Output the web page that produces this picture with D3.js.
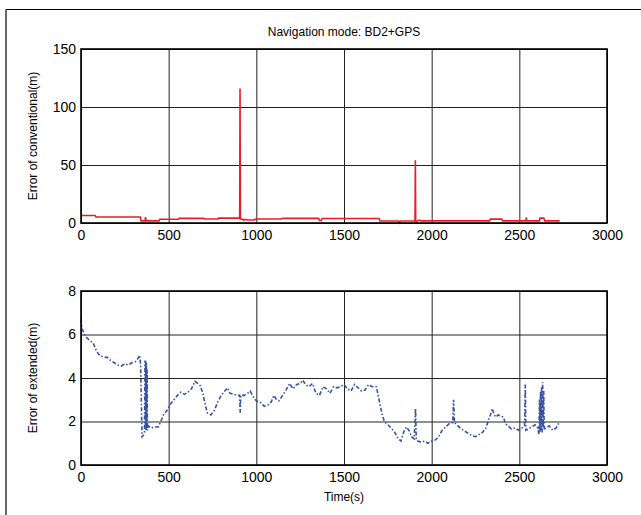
<!DOCTYPE html>
<html>
<head>
<meta charset="utf-8">
<script src="https://cdn.jsdelivr.net/npm/d3@7"></script>
<style>
  body { margin: 0; background: #fff; }
  text { font-family: Arial, "Liberation Sans", sans-serif; fill: #000; }
</style>
</head>
<body>
<svg class="chart"></svg>
<script>
// conventional error (top panel), time in s
var convTime = [0, 80, 85, 338, 343, 365, 368, 372, 376, 445, 450, 555, 560, 700, 705, 780, 785, 905, 907, 909, 915, 930, 935, 950, 990, 995, 1145, 1150, 1355, 1360, 1370, 1375, 1700, 1705, 1810, 1815, 1820, 1905, 1907, 1909, 1912, 1930, 1940, 2330, 2335, 2400, 2405, 2538, 2540, 2542, 2615, 2618, 2640, 2645, 2730];
var convErr  = [6.5, 6.5, 5.2, 5.2, 1.8, 1.8, 5, 1.8, 1.8, 1.8, 3.2, 3.2, 4, 4, 3.5, 3.5, 4.2, 4.2, 116, 3.5, 3.5, 2.5, 3.2, 2.6, 2.6, 3.4, 3.4, 4, 4, 2.2, 2.2, 3.9, 3.9, 1.7, 1.7, 0.2, 1.7, 1.7, 54, 1.2, 1.2, 2.5, 1.8, 1.8, 3.3, 3.3, 1.8, 1.8, 4.8, 1.8, 1.8, 4.2, 4.2, 1.8, 1.8];

// extended error (bottom panel)
var extTime = [0, 5, 15, 25, 40, 55, 70, 85, 100, 115, 130, 150, 170, 190, 210, 230, 250, 270, 290, 310, 325, 335, 340, 348, 355, 362, 365, 367, 369, 371, 373, 375, 377, 379, 385, 400, 420, 440, 455, 470, 490, 510, 530, 550, 570, 590, 610, 630, 650, 665, 680, 695, 705, 720, 740, 760, 780, 800, 820, 835, 850, 870, 890, 905, 908, 911, 930, 950, 965, 985, 1000, 1020, 1045, 1065, 1085, 1100, 1115, 1130, 1150, 1170, 1190, 1210, 1230, 1250, 1265, 1280, 1300, 1320, 1340, 1360, 1380, 1400, 1420, 1440, 1460, 1480, 1500, 1520, 1540, 1560, 1580, 1600, 1620, 1640, 1660, 1685, 1700, 1715, 1730, 1750, 1770, 1790, 1810, 1825, 1840, 1855, 1870, 1885, 1900, 1908, 1912, 1920, 1940, 1960, 1980, 2000, 2020, 2040, 2060, 2080, 2100, 2120, 2125, 2130, 2150, 2170, 2190, 2210, 2230, 2250, 2270, 2290, 2310, 2325, 2335, 2345, 2355, 2365, 2380, 2395, 2410, 2420, 2435, 2455, 2475, 2495, 2515, 2530, 2534, 2537, 2550, 2570, 2590, 2605, 2612, 2615, 2618, 2621, 2624, 2627, 2630, 2633, 2636, 2639, 2642, 2650, 2670, 2690, 2710, 2730];
var extErr  = [6.7, 6.3, 6.1, 5.9, 5.8, 5.7, 5.6, 5.3, 5.1, 5.0, 4.95, 4.95, 4.8, 4.7, 4.6, 4.55, 4.65, 4.6, 4.7, 4.75, 4.9, 5.05, 4.6, 1.3, 1.35, 1.5, 4.8, 1.6, 4.8, 1.6, 4.7, 1.7, 4.4, 1.6, 1.8, 1.7, 1.75, 1.75, 2.0, 2.3, 2.5, 2.8, 3.0, 3.2, 3.35, 3.25, 3.35, 3.5, 3.85, 3.75, 3.65, 3.3, 2.9, 2.4, 2.3, 2.5, 2.9, 3.2, 3.4, 3.55, 3.3, 3.25, 3.2, 3.2, 2.4, 3.2, 3.2, 3.3, 3.4, 3.1, 2.95, 2.9, 2.7, 2.75, 2.9, 3.2, 3.0, 2.95, 3.2, 3.45, 3.75, 3.5, 3.7, 3.75, 3.9, 3.7, 3.6, 3.75, 3.3, 3.2, 3.6, 3.5, 3.3, 3.6, 3.55, 3.6, 3.7, 3.5, 3.4, 3.7, 3.55, 3.4, 3.45, 3.7, 3.6, 3.6, 3.0, 2.4, 2.0, 1.85, 1.7, 1.5, 1.2, 1.1, 1.5, 1.75, 1.6, 1.3, 1.2, 2.6, 1.2, 1.1, 1.05, 1.1, 1.0, 1.1, 1.15, 1.3, 1.6, 1.75, 1.9, 1.95, 3.0, 1.95, 1.8, 1.65, 1.55, 1.45, 1.35, 1.3, 1.4, 1.5, 1.7, 2.1, 2.3, 2.6, 2.35, 2.2, 2.3, 2.25, 2.2, 1.9, 1.8, 1.65, 1.7, 1.6, 1.7, 1.8, 3.7, 1.6, 1.65, 1.75, 1.85, 1.7, 1.4, 3.0, 1.5, 3.4, 1.6, 3.6, 1.5, 3.8, 1.7, 3.4, 1.6, 1.7, 1.8, 1.6, 1.7, 2.0];

var xTicks = [0, 500, 1000, 1500, 2000, 2500, 3000];
var convTicks = [0, 50, 100, 150];
var extTicks = [0, 2, 4, 6, 8];

var W = 641, H = 515;
var left = 81, right = 607;

var svg = d3.select(".chart").attr("width", W).attr("height", H);

// outer figure frame (only top & left edge visible)
svg.append("line").attr("x1", 6).attr("x2", W).attr("y1", 9.5).attr("y2", 9.5)
    .attr("stroke", "#000").attr("stroke-width", 1.2);
svg.append("line").attr("x1", 6).attr("x2", 6).attr("y1", 9.5).attr("y2", H)
    .attr("stroke", "#000").attr("stroke-width", 1.2);

svg.append("text").attr("x", 344).attr("y", 36).attr("text-anchor", "middle")
    .style("font-size", "12px").text("Navigation mode: BD2+GPS");

function panel(top, bottom, yMax, yTicks, times, vals, color, dash, label) {
  var x = d3.scaleLinear().domain([0, 3000]).range([left, right]);
  var y = d3.scaleLinear().domain([0, yMax]).range([bottom, top]);
  var g = svg.append("g");

  // grid via axes
  g.append("g")
      .attr("transform", "translate(0," + bottom + ")")
      .call(d3.axisBottom(x).tickValues(xTicks).tickFormat(d3.format("d"))
              .tickSize(-(bottom - top)).tickPadding(7))
      .call(a => a.select(".domain").remove())
      .call(a => a.selectAll("line").attr("stroke", "#222").attr("stroke-width", 1))
      .call(a => a.selectAll("text").style("font-size", "14px").attr("fill", "#000"));

  g.append("g")
      .attr("transform", "translate(" + left + ",0)")
      .call(d3.axisLeft(y).tickValues(yTicks).tickFormat(d3.format("d"))
              .tickSize(-(right - left)).tickPadding(5))
      .call(a => a.select(".domain").remove())
      .call(a => a.selectAll("line").attr("stroke", "#222").attr("stroke-width", 1))
      .call(a => a.selectAll("text").style("font-size", "14px").attr("fill", "#000"));

  var line = d3.line().x((d, i) => x(times[i])).y(d => y(d));
  g.append("path").datum(vals)
      .attr("fill", "none")
      .attr("stroke", color)
      .attr("stroke-width", 1.6)
      .attr("stroke-dasharray", dash)
      .attr("d", line);

  g.append("rect").attr("x", left).attr("y", top)
      .attr("width", right - left).attr("height", bottom - top)
      .attr("fill", "none").attr("stroke", "#000").attr("stroke-width", 1.6);

  g.append("text")
      .attr("transform", "translate(37," + ((top + bottom) / 2) + ") rotate(-90)")
      .attr("text-anchor", "middle")
      .style("font-size", "12px")
      .text(label);
}

panel(49, 223, 150, convTicks, convTime, convErr, "#ec1c24", null, "Error of conventional(m)");
panel(291, 465, 8, extTicks, extTime, extErr, "#3953a4", "4,2,1.5,2", "Error of extended(m)");

svg.append("text").attr("x", 344).attr("y", 501).attr("text-anchor", "middle")
    .style("font-size", "12px").text("Time(s)");
</script>
</body>
</html>
